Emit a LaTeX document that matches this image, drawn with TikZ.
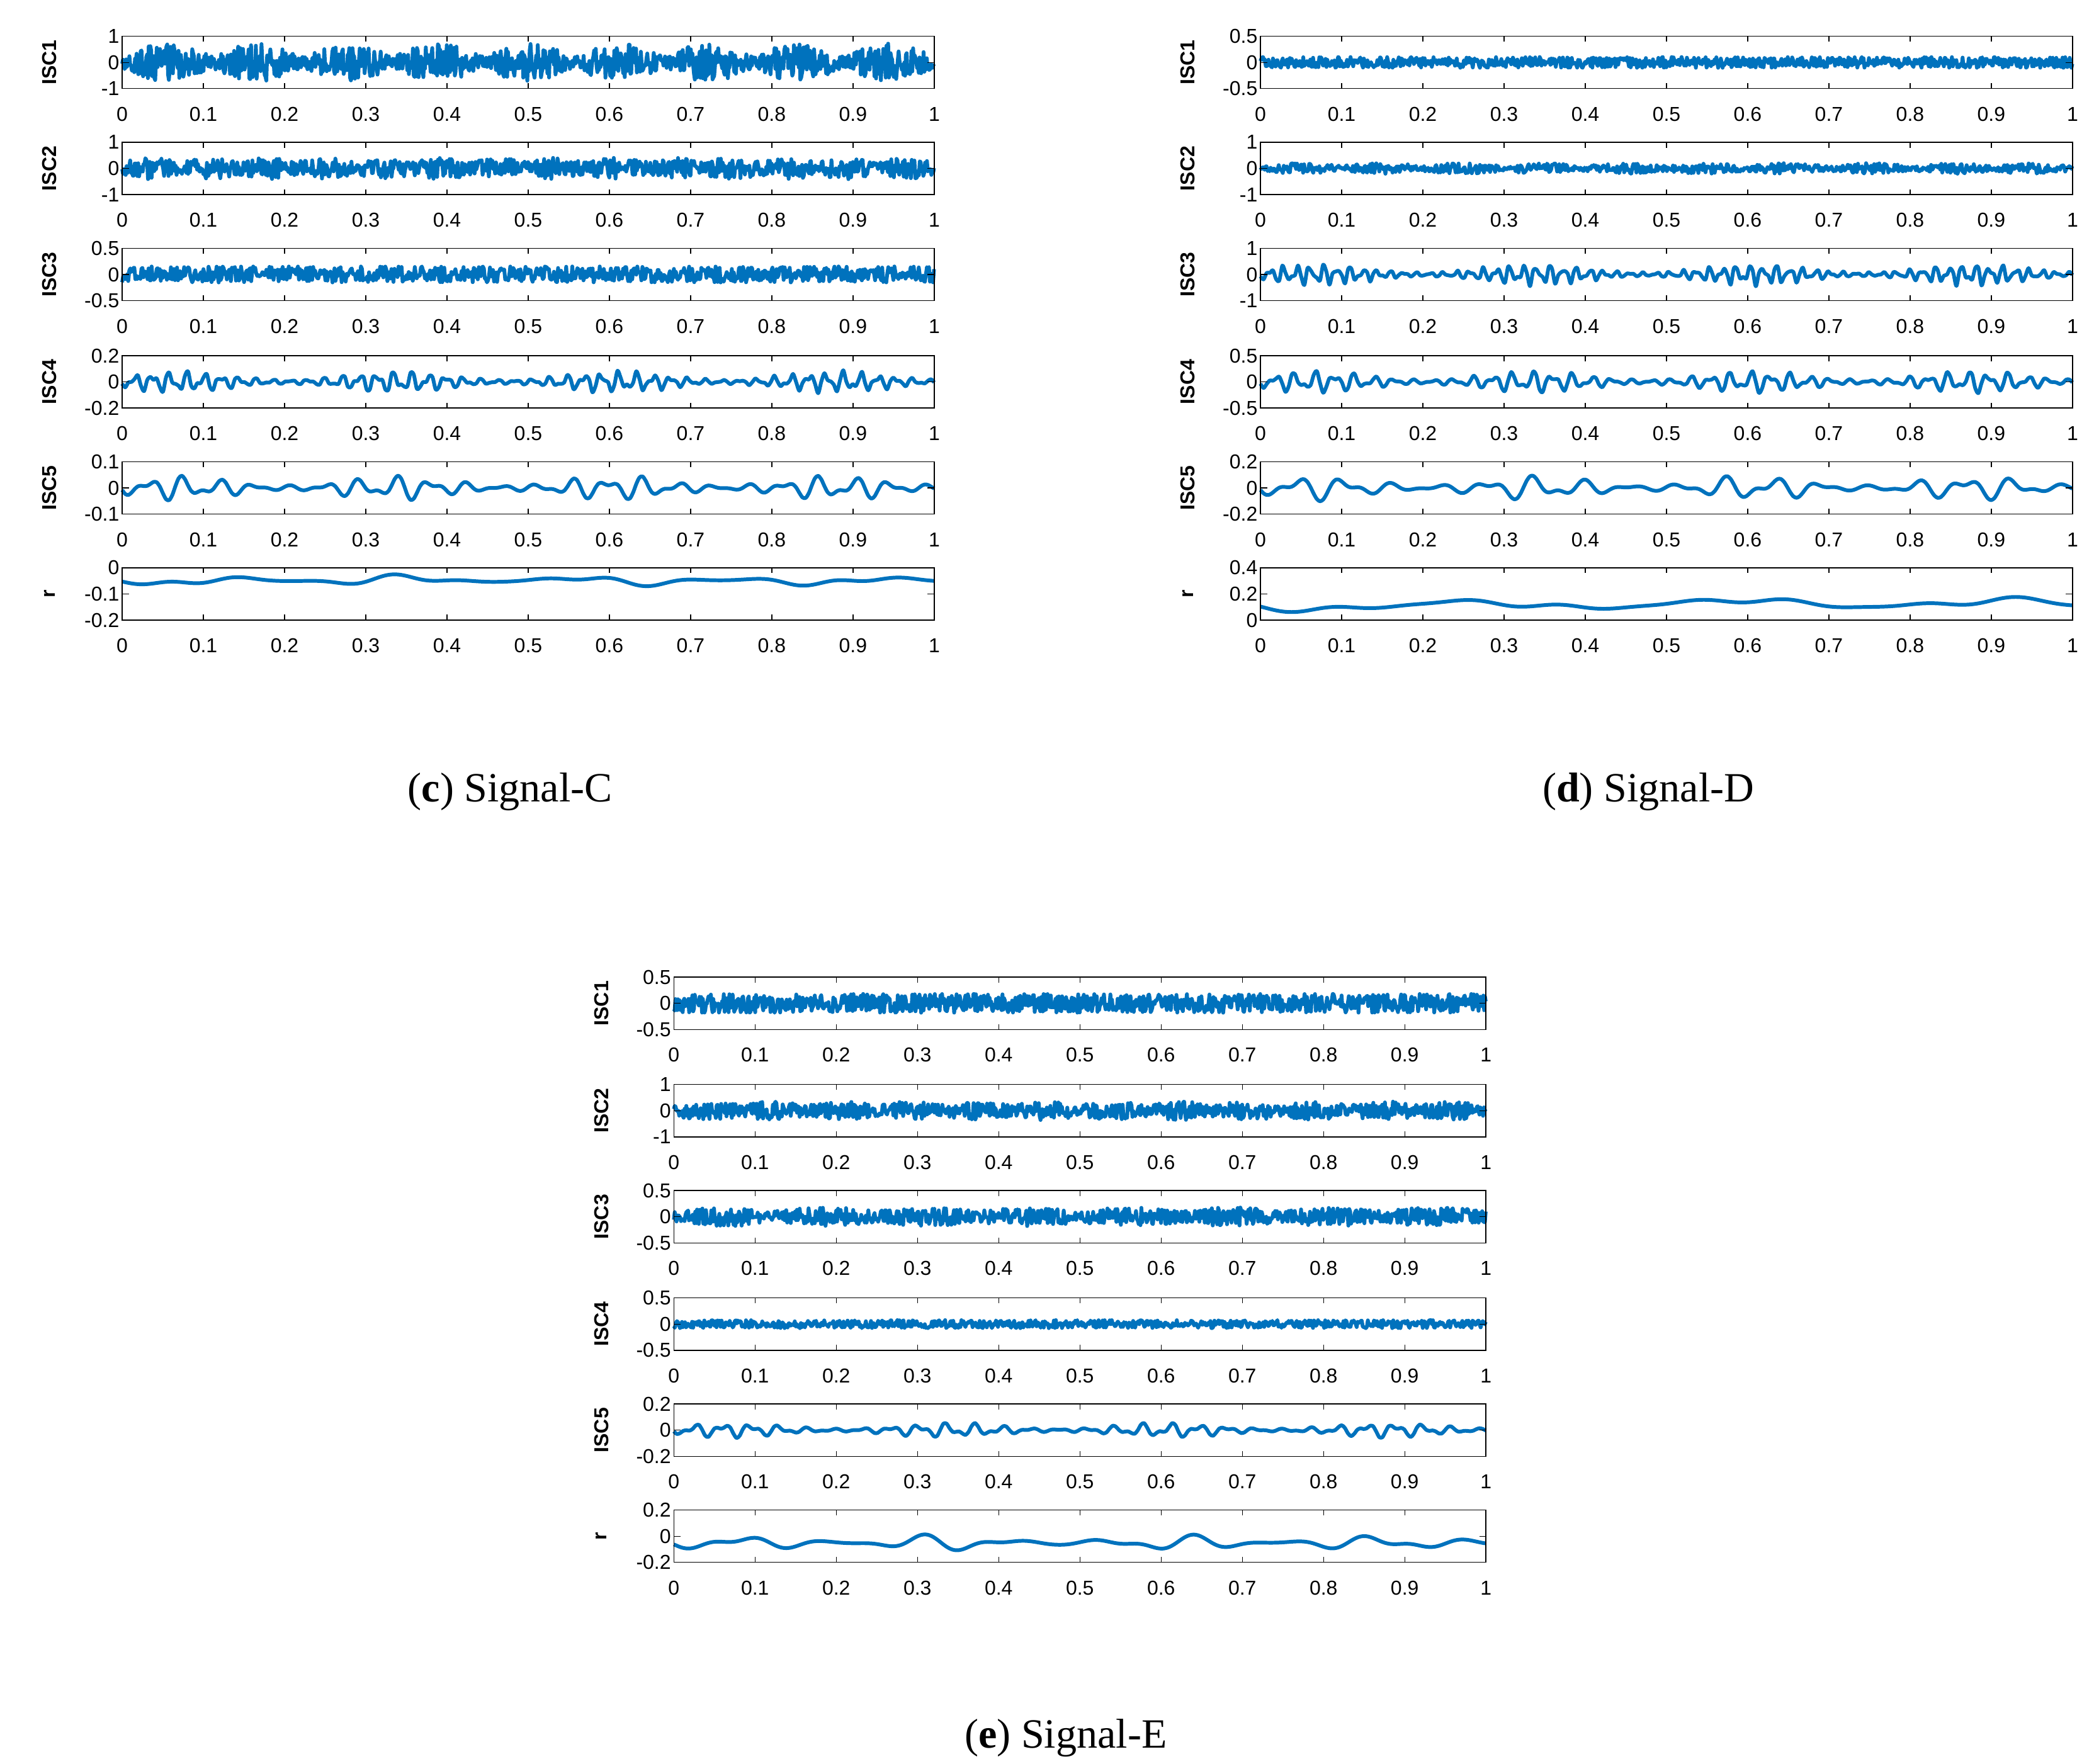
\documentclass[tikz,border=0pt]{standalone}
\usepackage{fontspec}
\setmainfont{Liberation Serif}
\newfontfamily\axf{Liberation Sans}
\definecolor{mb}{RGB}{0,114,189}
\newcommand\ax[6]{%
 \draw[line width=0.7pt] (#1,#2) rectangle ++(605,39);
 \foreach \i/\t in {0/0,1/0.1,2/0.2,3/0.3,4/0.4,5/0.5,6/0.6,7/0.7,8/0.8,9/0.9,10/1}{%
  \pgfmathsetmacro\xx{#1+60.5*\i}
  \draw[line width=0.6pt] (\xx,#2+39) -- ++(0,-4) (\xx,#2) -- ++(0,4);
  \node[tl] at (\xx,#2+58) {\t};}
 \foreach \k in {0,19.5,39}{\draw[line width=0.6pt] (#1,#2+\k) -- ++(5,0) (#1+605,#2+\k) -- ++(-5,0);}
 \node[tl,anchor=east] at (#1-1,#2) {#4};
 \node[tl,anchor=east] at (#1-1,#2+19.5) {#5};
 \node[tl,anchor=east] at (#1-1,#2+39) {#6};
 \node[tl,font=\axf\bfseries\fontsize{15}{15}\selectfont,rotate=90] at (#1-54,#2+19.5) {#3};}
\newcommand\noisy[5]{\draw[sig] plot[domain=0:1,samples=#4] ({#1+605*\x},{#2+19.5+#3*rand*(#5)});}
\newcommand\wavy[6]{\draw[sig,smooth] plot[domain=0:1,samples=260] ({#1+605*\x},{#2+19.5+#3+#4*(0.6*sin(mod(\x*#5,1)*360)+0.4*sin(mod(\x*#6,1)*360+40))*(0.6+0.4*sin(\x*360*3.7))});}
\begin{document}
\begin{tikzpicture}[x=1pt,y=-1pt,
 tl/.style={font=\axf\fontsize{15}{15}\selectfont,inner sep=1pt},
 sig/.style={mb,line width=2.8pt,line join=round}]
\useasboundingbox (0,0) rectangle (1560,1314);
\pgfmathsetseed{7}
% Panel C
\noisy{91}{27}{14}{1000}{0.3+0.7*abs(sin(\x*360*4.5))}
\noisy{91}{106}{8}{900}{0.6+0.4*abs(sin(\x*360*7))}
\noisy{91}{185}{6}{800}{1}
\wavy{91}{265}{0}{9}{47}{83}
\wavy{91}{344}{0}{10}{23}{37}
\wavy{91}{423}{-10}{5}{5}{11}
\ax{91}{27}{ISC1}{1}{0}{-1}
\ax{91}{106}{ISC2}{1}{0}{-1}
\ax{91}{185}{ISC3}{0.5}{0}{-0.5}
\ax{91}{265}{ISC4}{0.2}{0}{-0.2}
\ax{91}{344}{ISC5}{0.1}{0}{-0.1}
\ax{91}{423}{r}{0}{-0.1}{-0.2}
% Panel D
\noisy{939}{27}{4}{900}{1}
\noisy{939}{106}{4}{800}{0.5+0.5*abs(sin(\x*360*5))}
\wavy{939}{185}{0}{9}{61}{97}
\wavy{939}{265}{0}{9}{41}{67}
\wavy{939}{344}{0}{10}{17}{29}
\wavy{939}{423}{8}{9}{3}{7}
\ax{939}{27}{ISC1}{0.5}{0}{-0.5}
\ax{939}{106}{ISC2}{1}{0}{-1}
\ax{939}{185}{ISC3}{1}{0}{-1}
\ax{939}{265}{ISC4}{0.5}{0}{-0.5}
\ax{939}{344}{ISC5}{0.2}{0}{-0.2}
\ax{939}{423}{r}{0.4}{0.2}{0}
% Panel E
\noisy{502}{728}{7}{1000}{1}
\noisy{502}{808}{7}{900}{0.6+0.4*abs(sin(\x*360*6))}
\noisy{502}{887}{7}{900}{0.6+0.4*abs(sin(\x*360*4))}
\noisy{502}{967}{3}{800}{1}
\wavy{502}{1046}{0}{6}{29}{53}
\wavy{502}{1125}{5}{7}{9}{15}
\ax{502}{728}{ISC1}{0.5}{0}{-0.5}
\ax{502}{808}{ISC2}{1}{0}{-1}
\ax{502}{887}{ISC3}{0.5}{0}{-0.5}
\ax{502}{967}{ISC4}{0.5}{0}{-0.5}
\ax{502}{1046}{ISC5}{0.2}{0}{-0.2}
\ax{502}{1125}{r}{0.2}{0}{-0.2}
% captions
\node[font=\fontsize{31}{31}\selectfont] (cc) at (380,590) {(\textbf{c}) Signal-C};
\node[font=\fontsize{31}{31}\selectfont] (cd) at (1228,590) {(\textbf{d}) Signal-D};
\node[font=\fontsize{31}{31}\selectfont] (ce) at (794,1295) {(\textbf{e}) Signal-E};
\end{tikzpicture}
\end{document}
